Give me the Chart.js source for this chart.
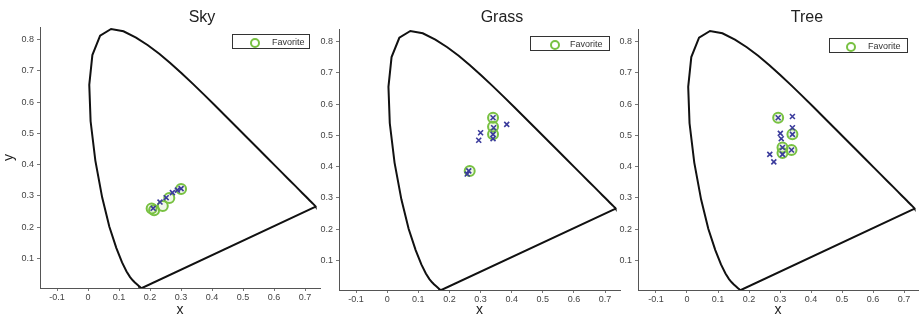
<!DOCTYPE html>
<html>
<head>
<meta charset="utf-8">
<script src="https://cdn.jsdelivr.net/npm/chart.js@4.4.1/dist/chart.umd.min.js"></script>
<style>
  html, body { margin: 0; padding: 0; background: #fff; overflow: hidden; }
  #wrap { position: relative; width: 919px; height: 321px; overflow: hidden;
          font-family: "Liberation Sans", Arial, sans-serif; }
  canvas { position: absolute; top: 0; }
  .ttl { position: absolute; top: 9px; font-size: 16px; line-height: 1; color: #222;
         transform: translateX(-50%); }
  .lg { position: absolute; height: 15px; border: 1px solid #333; background: #fff;
        font-size: 9px; line-height: 15px; color: #333; box-sizing: border-box; }
  .lg i { position: absolute; top: 3px; width: 6px; height: 6px; border: 2px solid #78c142;
          border-radius: 50%; }
  .lg span { position: absolute; top: 0; }
</style>
</head>
<body>
<div id="wrap">
  <canvas id="sky" width="330" height="321" style="left:0"></canvas>
  <canvas id="grass" width="331" height="321" style="left:299px"></canvas>
  <canvas id="tree" width="330" height="321" style="left:598px"></canvas>

  <div class="ttl" style="left:202px">Sky</div>
  <div class="ttl" style="left:502px">Grass</div>
  <div class="ttl" style="left:807px">Tree</div>

  <div class="lg" style="left:232px;top:34px;width:78px"><i style="left:17px"></i><span style="left:39px">Favorite</span></div>
  <div class="lg" style="left:530px;top:36px;width:80px"><i style="left:19px"></i><span style="left:39px">Favorite</span></div>
  <div class="lg" style="left:829px;top:38px;width:79px"><i style="left:16px"></i><span style="left:38px">Favorite</span></div>
</div>

<script>
// ── CIE 1931 spectral locus (380–700 nm), closed by the purple line ──
const locusX = [0.1741, 0.1740, 0.1738, 0.1736, 0.1733, 0.1730, 0.1726, 0.1721, 0.1714, 0.1703,
                0.1689, 0.1669, 0.1644, 0.1611, 0.1566, 0.1510, 0.1440, 0.1355, 0.1241, 0.1096,
                0.0913, 0.0687, 0.0454, 0.0235, 0.0082, 0.0039, 0.0139, 0.0389, 0.0743, 0.1142,
                0.1547, 0.1929, 0.2296, 0.2658, 0.3016, 0.3373, 0.3731, 0.4087, 0.4441, 0.4788,
                0.5125, 0.5448, 0.5752, 0.6029, 0.6270, 0.6482, 0.6658, 0.6801, 0.6915, 0.7006,
                0.7079, 0.7140, 0.7190, 0.7230, 0.7260, 0.7283, 0.7300, 0.7327, 0.7334, 0.7347,
                0.1741];
const locusY = [0.0050, 0.0050, 0.0049, 0.0049, 0.0048, 0.0048, 0.0048, 0.0048, 0.0051, 0.0058,
                0.0069, 0.0086, 0.0109, 0.0138, 0.0177, 0.0227, 0.0297, 0.0399, 0.0578, 0.0868,
                0.1327, 0.2007, 0.2950, 0.4127, 0.5384, 0.6548, 0.7502, 0.8120, 0.8338, 0.8262,
                0.8059, 0.7816, 0.7543, 0.7243, 0.6923, 0.6589, 0.6245, 0.5896, 0.5547, 0.5202,
                0.4866, 0.4544, 0.4242, 0.3965, 0.3725, 0.3514, 0.3340, 0.3197, 0.3083, 0.2993,
                0.2920, 0.2859, 0.2809, 0.2770, 0.2740, 0.2717, 0.2700, 0.2673, 0.2666, 0.2653,
                0.0050];

// ── Sky ──
const skyFavX  = [0.205, 0.213, 0.241, 0.262, 0.300];
const skyFavY  = [0.259, 0.254, 0.267, 0.293, 0.322];
const skyPickX = [0.210, 0.232, 0.252, 0.272, 0.288, 0.300];
const skyPickY = [0.260, 0.280, 0.294, 0.310, 0.318, 0.323];

// ── Grass ──
const grassFavX  = [0.340, 0.340, 0.340, 0.265];
const grassFavY  = [0.556, 0.527, 0.503, 0.386];
const grassPickX = [0.340, 0.342, 0.340, 0.340, 0.300, 0.294, 0.384, 0.262, 0.257];
const grassPickY = [0.556, 0.524, 0.503, 0.489, 0.508, 0.484, 0.535, 0.386, 0.376];

// ── Tree ──
const treeFavX  = [0.294, 0.340, 0.308, 0.308, 0.337];
const treeFavY  = [0.556, 0.503, 0.461, 0.443, 0.453];
const treePickX = [0.294, 0.340, 0.340, 0.301, 0.304, 0.340, 0.308, 0.308, 0.337, 0.267, 0.280];
const treePickY = [0.556, 0.560, 0.524, 0.506, 0.489, 0.503, 0.461, 0.439, 0.453, 0.439, 0.415];

// ── Ticks ──
const xTickValues = [-0.1, 0, 0.1, 0.2, 0.3, 0.4, 0.5, 0.6, 0.7];
const yTickValues = [0.1, 0.2, 0.3, 0.4, 0.5, 0.6, 0.7, 0.8];

const zip = (xs, ys) => xs.map((x, i) => ({ x, y: ys[i] }));
const fmt = v => (v === 0 ? '0' : v.toFixed(1));

function buildPanel(id, favX, favY, pickX, pickY, lay) {
  return new Chart(document.getElementById(id), {
    type: 'scatter',
    data: {
      datasets: [
        {
          label: 'Favorite',
          data: zip(favX, favY),
          pointStyle: 'circle',
          pointRadius: 5,
          pointBorderWidth: 2,
          pointBorderColor: '#78c142',
          pointBackgroundColor: 'rgba(120,193,66,0.12)',
          order: 2,
        },
        {
          label: 'Picks',
          data: zip(pickX, pickY),
          pointStyle: 'crossRot',
          pointRadius: 3.5,
          pointBorderWidth: 1.6,
          pointBorderColor: '#3b3b9c',
          order: 1,
        },
        {
          label: 'Locus',
          data: zip(locusX, locusY),
          showLine: true,
          borderColor: '#111',
          borderWidth: 2,
          pointRadius: 0,
          fill: false,
          tension: 0,
          order: 3,
        },
      ],
    },
    options: {
      responsive: false,
      animation: false,
      events: [],
      layout: { padding: { top: lay.top, right: 10, left: 0, bottom: 0 } },
      plugins: { legend: { display: false }, tooltip: { enabled: false } },
      scales: {
        x: {
          type: 'linear',
          min: lay.xMin,
          max: lay.xMax,
          afterFit: s => { s.height = lay.xAxisH; },
          afterBuildTicks: s => { s.ticks = xTickValues.map(v => ({ value: v })); },
          ticks: { callback: fmt, font: { size: 9 }, color: '#444', padding: 1, maxRotation: 0, autoSkip: false },
          grid: { display: true, drawOnChartArea: false, drawTicks: true, tickLength: 3, color: '#777' },
          border: { display: true, color: '#555', width: 1 },
          title: { display: true, text: 'x', font: { size: 14 }, color: '#222', padding: { top: 0, bottom: 2 } },
        },
        y: {
          type: 'linear',
          min: 0.005,
          max: 0.84,
          afterFit: s => { s.width = 40; },
          afterBuildTicks: s => { s.ticks = yTickValues.map(v => ({ value: v })); },
          ticks: { callback: fmt, font: { size: 9 }, color: '#444', padding: 3, autoSkip: false },
          grid: { display: true, drawOnChartArea: false, drawTicks: true, tickLength: 3, color: '#777' },
          border: { display: true, color: '#555', width: 1 },
          title: { display: lay.yTitle, text: 'y', font: { size: 14 }, color: '#222', padding: { top: 1, bottom: 0 } },
        },
      },
    },
  });
}

buildPanel('sky', skyFavX, skyFavY, skyPickX, skyPickY,
  { top: 27, xAxisH: 33, xMin: -0.155, xMax: 0.748, yTitle: true });
buildPanel('grass', grassFavX, grassFavY, grassPickX, grassPickY,
  { top: 29, xAxisH: 31, xMin: -0.155, xMax: 0.748, yTitle: false });
buildPanel('tree', treeFavX, treeFavY, treePickX, treePickY,
  { top: 29, xAxisH: 31, xMin: -0.158, xMax: 0.745, yTitle: false });
</script>
</body>
</html>
